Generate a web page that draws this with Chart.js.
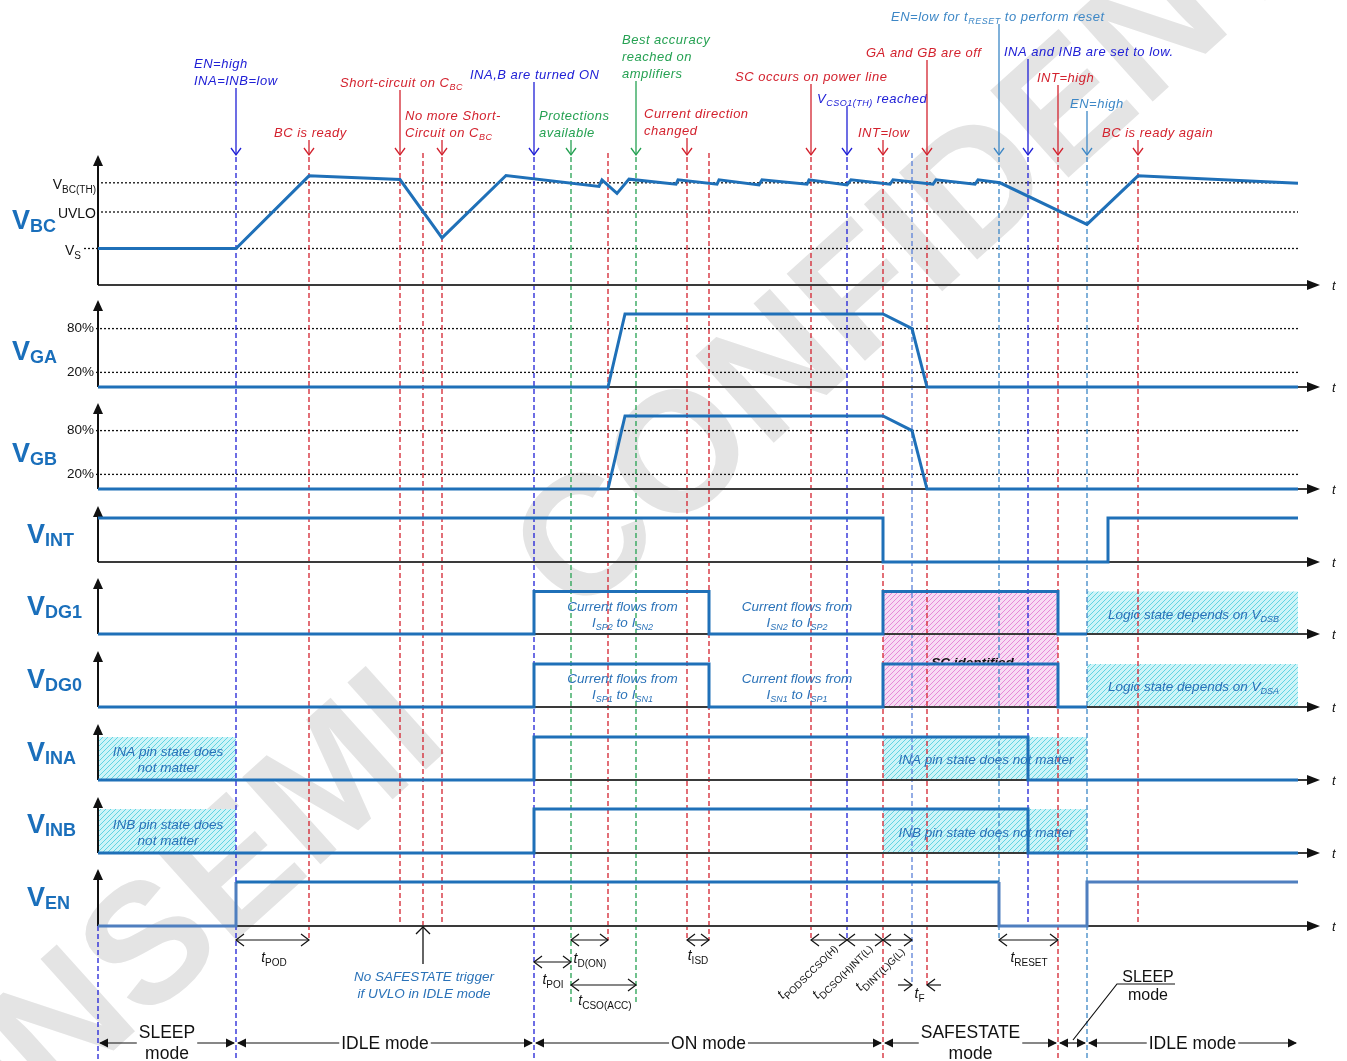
<!DOCTYPE html>
<html>
<head>
<meta charset="utf-8">
<title>Power-up, ON and SAFESTATE timing</title>
<script src="https://cdn.jsdelivr.net/npm/chart.js@4.4.1/dist/chart.umd.min.js"></script>
<style>
  html, body { margin: 0; padding: 0; background: #ffffff; }
  #wrap { position: relative; width: 1347px; height: 1061px; }
</style>
</head>
<body>
<div id="wrap"><canvas id="timing"></canvas></div>
<script>
// ---------- signal data (t = time units along the shared time axis) ----------
// VBC level (VS = 1, UVLO = 2, VBC(TH) = 2.8)
const bcT = [0, 138, 211, 302, 344, 408, 501, 504, 519, 531, 578, 580, 619, 621, 661, 664, 709, 711, 749, 753, 792, 795, 835, 838, 877, 880, 902, 989, 1040, 1200];
const bcV = [1.0, 1.0, 2.99, 2.89, 1.29, 3.0, 2.70, 2.88, 2.51, 2.90, 2.76, 2.88, 2.76, 2.88, 2.74, 2.88, 2.76, 2.88, 2.74, 2.88, 2.76, 2.88, 2.76, 2.88, 2.76, 2.88, 2.80, 1.66, 2.99, 2.79];
// gate drivers, percent of full swing
const gaT = [0, 510, 527, 785, 814, 829, 1200];
const gaV = [0, 0, 100, 100, 80, 0, 0];
const gbT = [0, 510, 527, 785, 814, 829, 1200];
const gbV = [0, 0, 100, 100, 80, 0, 0];
// logic signals (0 = low, 1 = high)
const intT = [0, 785, 785, 1010, 1010, 1200];
const intV = [1, 1, 0, 0, 1, 1];
const dg1T = [0, 436, 436, 611, 611, 785, 785, 960, 960, 989];
const dg1V = [0, 0, 1, 1, 0, 0, 1, 1, 0, 0];
const dg0T = [0, 436, 436, 611, 611, 785, 785, 960, 960, 989];
const dg0V = [0, 0, 1, 1, 0, 0, 1, 1, 0, 0];
const inaT = [0, 436, 436, 930, 930, 1200];
const inaV = [0, 0, 1, 1, 0, 0];
const inbT = [0, 436, 436, 930, 930, 1200];
const inbV = [0, 0, 1, 1, 0, 0];
const enT = [0, 138, 138, 901, 901, 989, 989, 1200];
const enV = [0, 0, 1, 1, 0, 0, 1, 1];

// threshold levels and their tick labels
const bcLevels = [2.8, 2.0, 1.0];
const bcLevelLabels = ['V_{BC(TH)}', 'UVLO', 'V_{S}'];
const gateLevels = [80, 20];
const gateLevelLabels = ['80%', '20%'];

// row names
const rowIds = ['bc', 'ga', 'gb', 'int', 'dg1', 'dg0', 'ina', 'inb', 'en'];
const rowNames = ['BC', 'GA', 'GB', 'INT', 'DG1', 'DG0', 'INA', 'INB', 'EN'];

// event instants marked with vertical dashed lines
const markerT = [0, 138, 211, 302, 325, 344, 436, 473, 510, 538, 589, 611, 713, 749, 785, 814, 829, 901, 930, 960, 989, 1040];

// callout texts attached to events
const calloutT = [138, 211, 302, 344, 436, 473, 538, 589, 713, 749, 785, 829, 901, 930, 960, 989, 1040];
const calloutText = [
  ['EN=high', 'INA=INB=low'],
  ['BC is ready'],
  ['Short-circuit on C_{BC}'],
  ['No more Short-', 'Circuit on C_{BC}'],
  ['INA,B are turned ON'],
  ['Protections', 'available'],
  ['Best accuracy', 'reached on', 'amplifiers'],
  ['Current direction', 'changed'],
  ['SC occurs on power line'],
  ['V_{CSO1(TH)} reached'],
  ['INT=low'],
  ['GA and GB are off'],
  ['EN=low for t_{RESET} to perform reset'],
  ['INA and INB are set to low.'],
  ['INT=high'],
  ['EN=high'],
  ['BC is ready again']
];

// timing parameters: [from, to, name]
const spanFrom = [138, 473, 436, 473, 589, 713, 749, 785, 901];
const spanTo   = [211, 510, 473, 538, 611, 749, 785, 814, 960];
const spanName = ['t_{POD}', 't_{D(ON)}', 't_{POI}', 't_{CSO(ACC)}', 't_{ISD}', 't_{PODSCCSO(H)}', 't_{DCSO(H)INT(L)}', 't_{DINT(L)G(L)}', 't_{RESET}'];

// operating modes along the bottom
const modeFrom = [0, 138, 436, 785, 960, 989];
const modeTo   = [138, 436, 785, 960, 989, 1200];
const modeName = [['SLEEP', 'mode'], ['IDLE mode'], ['ON mode'], ['SAFESTATE', 'mode'], [], ['IDLE mode']];

// ---------- layout & styles ----------
const W = 1347, H = 1061;
const FONT = '"Liberation Sans", Arial, Helvetica, sans-serif';
const TRACE = '#1f70b8';
const COL = { red: '#d3222e', blue: '#2020d6', green: '#25a152', sky: '#3d87c6', steel: '#5a80d8' };
const rowLayout = {
  bc:  { base: 285, unit: 36.5, top: 155, labelY: 219, labelX: 12 },
  ga:  { base: 387, unit: 0.73, top: 300, labelY: 350, labelX: 12 },
  gb:  { base: 489, unit: 0.73, top: 403, labelY: 452, labelX: 12 },
  int: { base: 562, unit: 44,   top: 506, labelY: 533, labelX: 27 },
  dg1: { base: 634, unit: 42.5, top: 578, labelY: 605, labelX: 27 },
  dg0: { base: 707, unit: 43,   top: 651, labelY: 678, labelX: 27 },
  ina: { base: 780, unit: 43,   top: 724, labelY: 751, labelX: 27 },
  inb: { base: 853, unit: 44,   top: 797, labelY: 823, labelX: 27 },
  en:  { base: 926, unit: 44,   top: 869, labelY: 896, labelX: 27 }
};
const markerColor = ['blue','blue','red','red','red','red','blue','green','red','green','red','red','red','blue','red','steel','red','sky','blue','red','sky','red'];
const markerEnd = [1061,1061,940,926,926,926,1061,1005,940,1005,940,940,940,940,1061,985,985,940,926,1061,1061,926];
const calloutColor = ['blue','red','red','red','blue','green','green','red','red','blue','red','red','sky','blue','red','sky','red'];
const calloutPos = [[194,63],[274,132],[340,82],[405,115],[470,74],[539,115],[622,39],[644,113],[735,76],[817,98],[858,132],[866,52],[891,16],[1004,51],[1037,77],[1070,103],[1102,132]];
const spanY = [940, 940, 962, 985, 940, 940, 940, 940, 940];
const spanLabel = [[274,957,0],[590,958,0],[553,979,0],[605,1000,0],[698,955,0],[779,996,1],[814,996,1],[857,988,1],[1029,957,0]];
const AXIS_END_T = 1222;

function rowScale(r) {
  return { type: 'linear', display: false, bounds: 'data', min: -(H - r.base) / r.unit, max: r.base / r.unit };
}

function fnt(size, italic, bold) {
  return (italic ? 'italic ' : '') + (bold ? 'bold ' : '') + size + 'px ' + FONT;
}
function parseRich(str) {
  const out = []; const re = /_\{([^}]*)\}/g; let last = 0, m;
  while ((m = re.exec(str))) {
    if (m.index > last) out.push({ t: str.slice(last, m.index), sub: false });
    out.push({ t: m[1], sub: true }); last = re.lastIndex;
  }
  if (last < str.length) out.push({ t: str.slice(last), sub: false });
  return out;
}
// text with _{subscript} parts; y is the visual middle of the capitals
function rich(ctx, str, x, y, o) {
  const size = o.size || 13, ss = o.subSize || Math.round(size * 0.7);
  const subIt = o.subItalic !== undefined ? o.subItalic : o.italic;
  const segs = parseRich(str);
  if ('letterSpacing' in ctx) ctx.letterSpacing = (o.ls || 0) + 'px';
  let w = 0;
  segs.forEach(s => {
    ctx.font = s.sub ? fnt(ss, subIt, o.bold) : fnt(size, o.italic, o.bold);
    s.w = ctx.measureText(s.t).width; w += s.w;
  });
  let cx = o.align === 'center' ? x - w / 2 : o.align === 'right' ? x - w : x;
  ctx.fillStyle = o.color || '#000';
  ctx.textAlign = 'left'; ctx.textBaseline = 'alphabetic';
  const base = y + size * 0.36;
  segs.forEach(s => {
    ctx.font = s.sub ? fnt(ss, subIt, o.bold) : fnt(size, o.italic, o.bold);
    ctx.fillText(s.t, cx, s.sub ? base + (o.subDy !== undefined ? o.subDy : size * 0.22) : base);
    cx += s.w;
  });
  if ('letterSpacing' in ctx) ctx.letterSpacing = '0px';
  return w;
}

function line(ctx, pts, color, width, dash) {
  ctx.save(); ctx.strokeStyle = color; ctx.lineWidth = width; ctx.setLineDash(dash || []);
  ctx.beginPath(); ctx.moveTo(pts[0][0], pts[0][1]);
  for (let i = 1; i < pts.length; i++) ctx.lineTo(pts[i][0], pts[i][1]);
  ctx.stroke(); ctx.restore();
}
function tri(ctx, pts, color) {
  ctx.fillStyle = color; ctx.beginPath(); ctx.moveTo(pts[0][0], pts[0][1]);
  ctx.lineTo(pts[1][0], pts[1][1]); ctx.lineTo(pts[2][0], pts[2][1]); ctx.closePath(); ctx.fill();
}
function hatch(ctx, bg, fg) {
  const c = document.createElement('canvas'); c.width = 5; c.height = 5;
  const g = c.getContext('2d');
  g.fillStyle = bg; g.fillRect(0, 0, 5, 5);
  g.strokeStyle = fg; g.lineWidth = 1;
  g.beginPath(); g.moveTo(-1, 6); g.lineTo(6, -1); g.moveTo(-1, 1); g.lineTo(1, -1); g.moveTo(4, 6); g.lineTo(6, 4); g.stroke();
  return ctx.createPattern(c, 'repeat');
}

const decor = {
  id: 'timingDecor',
  beforeDatasetsDraw(chart) {
    const ctx = chart.ctx;
    const X = t => chart.scales.x.getPixelForValue(t);
    const Y = (r, v) => chart.scales[r].getPixelForValue(v);
    ctx.save();

    // watermark
    ctx.save();
    ctx.translate(590, 545); ctx.rotate(-42 * Math.PI / 180);
    ctx.font = 'bold 170px ' + FONT; ctx.textBaseline = 'middle'; ctx.textAlign = 'left';
    const wc = ctx.measureText('C').width, w1 = ctx.measureText('ONSEMI').width;
    ctx.fillStyle = '#e4e4e4';
    ctx.fillText('CONFIDENTIAL', -wc / 2, 0);
    ctx.fillText('ONSEMI', -wc / 2 - 175 - w1, 10);
    ctx.restore();

    // hatched "don't care" areas
    const cyan = hatch(ctx, '#cdf4f8', '#62d4e2');
    const pink = hatch(ctx, '#f8dcf4', '#e68ad8');
    const boxes = [['ina', 0, 138], ['inb', 0, 138], ['ina', 785, 989], ['inb', 785, 989], ['dg1', 989, 1200], ['dg0', 989, 1200]];
    boxes.forEach(b => {
      const y1 = Y(b[0], 1), y0 = Y(b[0], 0);
      ctx.fillStyle = cyan; ctx.fillRect(X(b[1]), y1, X(b[2]) - X(b[1]), y0 - y1);
    });
    ctx.fillStyle = pink;
    ctx.fillRect(X(785), Y('dg1', 1), X(960) - X(785), Y('dg0', 0) - Y('dg1', 1));

    // threshold dotted lines and tick labels
    bcLevels.forEach((v, i) => {
      const y = Y('bc', v);
      line(ctx, [[i === 2 ? 84 : 97, y], [X(1200), y]], '#111', 1.3, [2, 2]);
      rich(ctx, bcLevelLabels[i], i === 2 ? 81 : 96, y + 1, { size: 14, subSize: 10, align: 'right', color: '#111', subDy: 4 });
    });
    ['ga', 'gb'].forEach(r => {
      gateLevels.forEach((v, i) => {
        const y = Y(r, v);
        line(ctx, [[96, y], [X(1200), y]], '#111', 1.3, [2, 2]);
        rich(ctx, gateLevelLabels[i], 94, y - 1, { size: 13.5, align: 'right', color: '#111' });
      });
    });

    // vertical event markers
    markerT.forEach((t, i) => {
      const hasCallout = calloutT.indexOf(t) >= 0;
      const y0 = t === 0 ? 926 : (hasCallout ? 157 : 153);
      line(ctx, [[X(t), y0], [X(t), markerEnd[i]]], COL[markerColor[i]], 1.3, [5, 3]);
    });

    // axes
    rowIds.forEach(r => {
      const L = rowLayout[r], x0 = X(0), yb = Y(r, 0), xe = X(AXIS_END_T);
      line(ctx, [[x0, yb], [xe - 10, yb]], '#3a3a3a', 2);
      tri(ctx, [[xe, yb], [xe - 13, yb - 5], [xe - 13, yb + 5]], '#111');
      line(ctx, [[x0, yb], [x0, L.top + 8]], '#111', 2);
      tri(ctx, [[x0, L.top], [x0 - 5, L.top + 11], [x0 + 5, L.top + 11]], '#111');
      ctx.font = fnt(13, true); ctx.fillStyle = '#111'; ctx.textAlign = 'left'; ctx.textBaseline = 'middle';
      ctx.fillText('t', xe + 12, yb + 1);
      // row name
      const name = rowNames[rowIds.indexOf(r)];
      rich(ctx, 'V_{' + name + '}', L.labelX, L.labelY, { size: 27, subSize: 18, bold: true, color: '#1a6fbb', subDy: 3 });
    });

    // texts inside hatched areas and pulses
    const tcol = '#2a72b8';
    const boxText = [
      ['ina', 0, 138, ['INA pin state does', 'not matter']],
      ['inb', 0, 138, ['INB pin state does', 'not matter']],
      ['ina', 785, 989, ['INA pin state does not matter']],
      ['inb', 785, 989, ['INB pin state does not matter']],
      ['dg1', 989, 1200, ['Logic state depends on V_{DSB}']],
      ['dg0', 989, 1200, ['Logic state depends on V_{DSA}']],
      ['dg1', 436, 611, ['Current flows from', 'I_{SP2} to I_{SN2}']],
      ['dg1', 611, 785, ['Current flows from', 'I_{SN2} to I_{SP2}']],
      ['dg0', 436, 611, ['Current flows from', 'I_{SP1} to I_{SN1}']],
      ['dg0', 611, 785, ['Current flows from', 'I_{SN1} to I_{SP1}']]
    ];
    boxText.forEach(b => {
      const cx = (X(b[1]) + X(b[2])) / 2, cy = (Y(b[0], 0) + Y(b[0], 1)) / 2;
      const n = b[3].length;
      b[3].forEach((s, k) => {
        rich(ctx, s, cx + 1, cy + 1 + (k - (n - 1) / 2) * 16, { size: 13.5, subSize: 9, italic: true, color: tcol, align: 'center' });
      });
    });
    ctx.save();
    ctx.beginPath(); ctx.rect(0, 0, W, Y('dg0', 1) - 1.5); ctx.clip();
    ctx.font = 'italic bold 13.5px ' + FONT; ctx.fillStyle = '#111'; ctx.textAlign = 'center'; ctx.textBaseline = 'alphabetic';
    ctx.fillText('SC identified', (X(785) + X(960)) / 2 + 2, Y('dg0', 1) + 3);
    ctx.restore();

    // callouts with down arrows
    calloutT.forEach((t, i) => {
      const c = COL[calloutColor[i]], p = calloutPos[i], lines = calloutText[i];
      lines.forEach((s, k) => rich(ctx, s, p[0], p[1] + k * 17, { size: 13, subSize: 9, italic: true, color: c, ls: 0.5 }));
      const x = X(t), ys = p[1] + (lines.length - 1) * 17 + 8;
      line(ctx, [[x, ys], [x, 155]], c, 1.3);
      line(ctx, [[x - 5, 148], [x, 155], [x + 5, 148]], c, 1.3);
    });

    // timing parameter spans
    const chev = (x, y, dir) => line(ctx, [[x - dir * 8, y - 6], [x, y], [x - dir * 8, y + 6]], '#111', 1.2);
    spanFrom.forEach((a, i) => {
      const xa = X(a), xb = X(spanTo[i]), y = spanY[i];
      line(ctx, [[xa, y], [xb, y]], '#111', 1.2);
      chev(xa, y, -1); chev(xb, y, 1);
      const L = spanLabel[i];
      if (L[2]) {
        ctx.save(); ctx.translate(L[0], L[1]); ctx.rotate(-Math.PI / 4);
        rich(ctx, spanName[i], 0, 0, { size: 14, subSize: 10, italic: true, subItalic: false, color: '#111', subDy: 4 });
        ctx.restore();
      } else {
        rich(ctx, spanName[i], L[0], L[1], { size: 14, subSize: 10, italic: true, subItalic: false, color: '#111', align: 'center', subDy: 4 });
      }
    });
    // fall time tF: inward arrows
    const xf1 = X(814), xf2 = X(829);
    line(ctx, [[xf1 - 14, 985], [xf1, 985]], '#111', 1.2); chev(xf1, 985, 1);
    line(ctx, [[xf2, 985], [xf2 + 14, 985]], '#111', 1.2); chev(xf2, 985, -1);
    rich(ctx, 't_{F}', (xf1 + xf2) / 2, 993, { size: 14, subSize: 10, italic: true, subItalic: false, color: '#111', align: 'center', subDy: 4 });

    // no SAFESTATE trigger note
    const xn = X(325);
    line(ctx, [[xn, 964], [xn, 927]], '#111', 1.3);
    line(ctx, [[xn - 7, 934], [xn, 927], [xn + 7, 934]], '#111', 1.3);
    rich(ctx, 'No SAFESTATE trigger', xn + 1, 976, { size: 13.5, italic: true, color: tcol, align: 'center' });
    rich(ctx, 'if UVLO in IDLE mode', xn + 1, 993, { size: 13.5, italic: true, color: tcol, align: 'center' });

    // operating modes
    const my = 1043;
    modeFrom.forEach((a, i) => {
      const xa = X(a), xb = X(modeTo[i]);
      line(ctx, [[xa + 2, my], [xb - 2, my]], '#111', 1.2);
      tri(ctx, [[xa + 1, my], [xa + 10, my - 4.5], [xa + 10, my + 4.5]], '#111');
      tri(ctx, [[xb - 1, my], [xb - 10, my - 4.5], [xb - 10, my + 4.5]], '#111');
      const nm = modeName[i];
      if (nm.length) {
        ctx.font = fnt(17.5);
        const tw = Math.max.apply(null, nm.map(s => ctx.measureText(s).width)) + 4;
        const cx = (xa + xb) / 2;
        ctx.fillStyle = '#fff';
        if (nm.length === 1) ctx.fillRect(cx - tw / 2, my - 10, tw, 20);
        else ctx.fillRect(cx - tw / 2, my - 22, tw, 40);
        nm.forEach((s, k) => {
          const yy = nm.length === 1 ? my : my - 11 + k * 21;
          rich(ctx, s, cx, yy, { size: 17.5, color: '#111', align: 'center' });
        });
      }
    });
    // leader for the short SLEEP phase
    line(ctx, [[X(975), my - 3], [X(1019), 984], [X(1077), 984]], '#111', 1.2);
    rich(ctx, 'SLEEP', X(1050), 976, { size: 16, color: '#111', align: 'center' });
    rich(ctx, 'mode', X(1050), 994, { size: 16, color: '#111', align: 'center' });

    ctx.restore();
  }
};

// ---------- chart ----------
function series(T, V, axis, extra) {
  return Object.assign({
    data: T.map((t, i) => ({ x: t, y: V[i] })),
    yAxisID: axis, showLine: true, borderColor: TRACE, borderWidth: 3,
    pointRadius: 0, tension: 0, fill: false, borderJoinStyle: 'miter', clip: false
  }, extra || {});
}
const enSoft = [true, true, false, true, true, true, true];
const scales = { x: { type: 'linear', display: false, bounds: 'data', min: -98, max: W - 98 } };
rowIds.forEach(r => { scales[r] = rowScale(rowLayout[r]); });

new Chart(document.getElementById('timing'), {
  type: 'scatter',
  data: {
    datasets: [
      series(bcT, bcV, 'bc'),
      series(gaT, gaV, 'ga'),
      series(gbT, gbV, 'gb'),
      series(intT, intV, 'int'),
      series(dg1T, dg1V, 'dg1'),
      series(dg0T, dg0V, 'dg0'),
      series(inaT, inaV, 'ina'),
      series(inbT, inbV, 'inb'),
      series(enT, enV, 'en', { segment: { borderColor: c => enSoft[c.p0DataIndex] ? '#4f7fbf' : TRACE } })
    ]
  },
  options: {
    responsive: true, maintainAspectRatio: false, animation: false, events: [],
    layout: { padding: 0 },
    scales: scales,
    plugins: { legend: { display: false }, tooltip: { enabled: false } }
  },
  plugins: [decor]
});
</script>
</body>
</html>
